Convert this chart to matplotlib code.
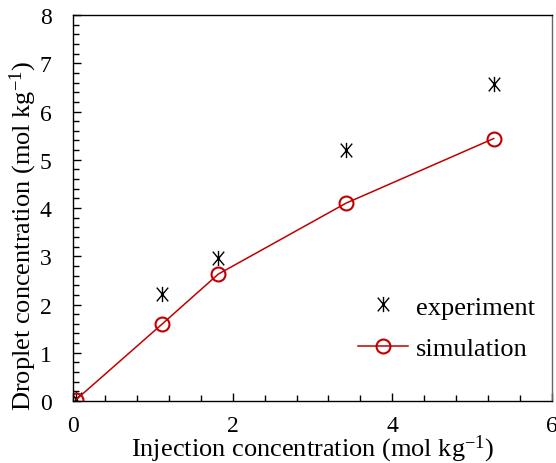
import numpy as np
import matplotlib
matplotlib.use('Agg')
import matplotlib.pyplot as plt
from matplotlib.ticker import MultipleLocator
from matplotlib.path import Path

plt.rcParams['font.family'] = ['Liberation Serif', 'DejaVu Serif']
plt.rcParams['mathtext.fontset'] = 'custom'
plt.rcParams['mathtext.rm'] = 'Liberation Serif'
plt.rcParams['mathtext.it'] = 'Liberation Serif:italic'

# ----- data -----
injConc = [0.04, 1.12, 1.82, 3.42, 5.27]
expDroplet = [0.04, 2.22, 2.96, 5.20, 6.57]
simDroplet = [0.03, 1.60, 2.63, 4.10, 5.44]

xTicks = [0, 2, 4, 6]
yTicks = [0, 1, 2, 3, 4, 5, 6, 7, 8]

# asterisk: vertical bar plus a steep X
starVerts = [(0, -1), (0, 1), (-0.75, -0.9), (0.75, 0.9), (-0.75, 0.9), (0.75, -0.9)]
starCodes = [Path.MOVETO, Path.LINETO] * 3
starMarker = Path(starVerts, starCodes)

fig = plt.figure(figsize=(5.56, 4.64), dpi=100)
ax = fig.add_axes([73/556, 1 - 402/464, (552-73)/556, (402-16)/464])

ax.plot(injConc, expDroplet, linestyle='none', marker=starMarker, markersize=11,
        markeredgewidth=1.0, color='black', label='experiment')
ax.plot(injConc, simDroplet, color='#C00000', linewidth=1.1, marker='o', markersize=10,
        markerfacecolor='none', markeredgewidth=1.5, label='simulation')

ax.set_xlim(0, 6)
ax.set_ylim(0, 8)
ax.set_xticks(xTicks)
ax.set_yticks(yTicks)
ax.xaxis.set_minor_locator(MultipleLocator(0.4))
ax.yaxis.set_minor_locator(MultipleLocator(0.2))
ax.tick_params(which='both', direction='in', labelsize=17, top=False, right=False)
ax.tick_params(which='major', length=5.5, width=1)
ax.tick_params(which='minor', length=4, width=1)
ax.tick_params(axis='x', pad=10)
ax.tick_params(axis='y', pad=15.5)
for sp in ax.spines.values():
    sp.set_linewidth(1.0)
ax.spines['right'].set_color('#666666')

ax.set_xlabel('Injection concentration (mol kg$^{-1}$)', fontsize=19, labelpad=-2.5)
ax.set_ylabel('Droplet concentration (mol kg$^{-1}$)', fontsize=19)
# label sits a bit below the axis centre in the original
ax.yaxis.set_label_coords(-0.071, 0.43)

ax.legend(loc='center left', bbox_to_anchor=(0.568, 0.19), frameon=False, fontsize=19,
          borderpad=0, handlelength=1.9, handletextpad=0.3, labelspacing=0.68)

fig.savefig('out.png', dpi=100)
